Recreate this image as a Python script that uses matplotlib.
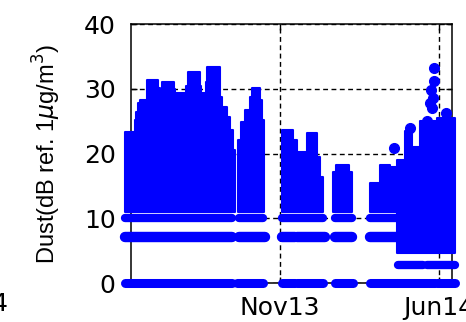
"""Dust level record, Apr 2013 - Jun 2014, drawn in the MATLAB-like style of the
station reports (blue point cloud, dashed grid, inward ticks)."""

import numpy as np
import matplotlib
matplotlib.use("Agg")
import matplotlib.pyplot as plt

# Time axis: days since the first sample of the record.
T0 = np.datetime64("2013-04-16")
T_END = 428.8
TICK_DATES = ["2013-11-01", "2014-06-01"]
TICK_LABELS = ["Nov13", "Jun14"]

# Upper envelope of the dense point cloud for each logging period
# (step edges in days, level in dB).  The cloud runs down to CLOUD_FLOOR.
seg1_t = [-8.0, 5.3, 6.7, 9.4, 12.0, 21.4, 36.1, 38.7, 41.4, 57.4, 58.8, 73.5,
          76.1, 92.2, 93.5, 100.2, 101.5, 118.9, 121.6, 128.2, 132.2, 136.3, 138.9]
seg1_top = [23.3, 25.2, 26.5, 27.8, 28.3, 31.4, 30.1, 29.5, 31.0, 30.0, 29.3, 30.5,
            32.6, 30.5, 29.3, 31.0, 33.4, 28.7, 27.2, 25.6, 23.6, 20.5, 20.5]
seg2_t = [142.9, 146.9, 152.3, 159.0, 161.6, 172.3, 175.0, 177.7]
seg2_top = [22.1, 24.9, 26.7, 28.7, 30.1, 28.3, 25.2, 25.2]
seg3_t = [201.7, 216.4, 221.7, 235.1, 248.4, 252.0, 256.5]
seg3_top = [23.6, 22.1, 20.2, 23.2, 19.5, 16.4, 16.4]
seg4_t = [269.8, 274.0, 291.0, 295.2]
seg4_top = [17.2, 18.2, 17.2, 17.2]
seg5_t = [319.3, 332.6, 346.0, 355.3]
seg5_top = [15.4, 18.2, 18.0, 18.0]
seg6_t = [355.3, 366.0, 375.4, 386.0, 408.8, 432.8]
seg6_top = [19.0, 23.5, 21.0, 25.0, 25.5, 25.5]
CLOUD_FLOOR = 10.9
SEG6_FLOOR = 4.6

# Recurring constant readings (sensor floor / default levels) per period.
band_levels = [0.0, 7.1, 10.1, 2.8]
band0_spans = [(-8.0, 135.6), (142.3, 177.0), (201.7, 219.1), (221.7, 256.5),
               (272.5, 296.6), (319.3, 355.3), (355.3, 395.4), (396.7, 406.1),
               (408.8, 432.8)]
band7_spans = [(-8.0, 135.6), (143.7, 179.0), (201.7, 219.1), (221.7, 259.1),
               (272.5, 295.2), (319.3, 355.3)]
band10_spans = [(-8.0, 135.6), (143.7, 177.0), (201.7, 256.5), (272.5, 295.2),
                (319.3, 355.3)]
band3_spans = [(356.6, 390.0), (395.4, 432.8)]

# Isolated high readings at the end of the record.
peak_t = [405.0, 404.5, 401.0, 404.0, 399.0, 402.5, 395.4, 420.8, 372.7, 351.0]
peak_val = [33.3, 31.2, 29.8, 28.6, 27.8, 27.0, 25.0, 26.2, 23.9, 20.8]

BLUE = "#0000ff"

plt.rcParams["font.family"] = ["DejaVu Sans"]
fig = plt.figure(figsize=(4.66, 3.22), dpi=100)
ax = fig.add_axes([0.281, 0.121, 0.689, 0.804])

for xs, top, floor in [(seg1_t, seg1_top, CLOUD_FLOOR), (seg2_t, seg2_top, CLOUD_FLOOR),
                       (seg3_t, seg3_top, CLOUD_FLOOR), (seg4_t, seg4_top, CLOUD_FLOOR),
                       (seg5_t, seg5_top, CLOUD_FLOOR), (seg6_t, seg6_top, SEG6_FLOOR)]:
    ax.fill_between(xs, floor, top, step="post", color=BLUE, lw=1.5,
                    joinstyle="round", clip_on=False, zorder=3)

for level, spans, lw in [(band_levels[0], band0_spans, 6.5),
                         (band_levels[1], band7_spans, 7.5),
                         (band_levels[2], band10_spans, 6.0),
                         (band_levels[3], band3_spans, 6.0)]:
    for a, b in spans:
        ax.plot([a, b], [level, level], color=BLUE, lw=lw,
                solid_capstyle="round", clip_on=False, zorder=3)

ax.plot(peak_t, peak_val, "o", color=BLUE, ms=7, clip_on=False, zorder=3)

ax.set_xlim(0, T_END)
ax.set_ylim(0, 40)
ticks = [(np.datetime64(d) - T0).astype(int) for d in TICK_DATES]
ax.set_xticks(ticks)
ax.set_xticklabels(TICK_LABELS)
ax.set_yticks([0, 10, 20, 30, 40])
ax.tick_params(direction="in", length=4, width=1, top=True, right=True,
               labelsize=18, pad=9)
ax.tick_params(axis="y", pad=11)
ax.grid(True, color="black", linestyle=(0, (3.5, 2.5)), linewidth=1.0, zorder=1)
ax.set_axisbelow(True)
for sp in ax.spines.values():
    sp.set_linewidth(1.1)
    sp.set_zorder(2)

ax.set_ylabel("Dust(dB ref. 1$\\mu$g/m$^3$)", family=["Liberation Sans"],
              fontsize=17, labelpad=15)

# tail of the neighbouring panel's last date label
fig.text(8 / 466, 1 - 304 / 322, "4", ha="right", va="center", fontsize=18)

fig.savefig("out.png", dpi=100)
